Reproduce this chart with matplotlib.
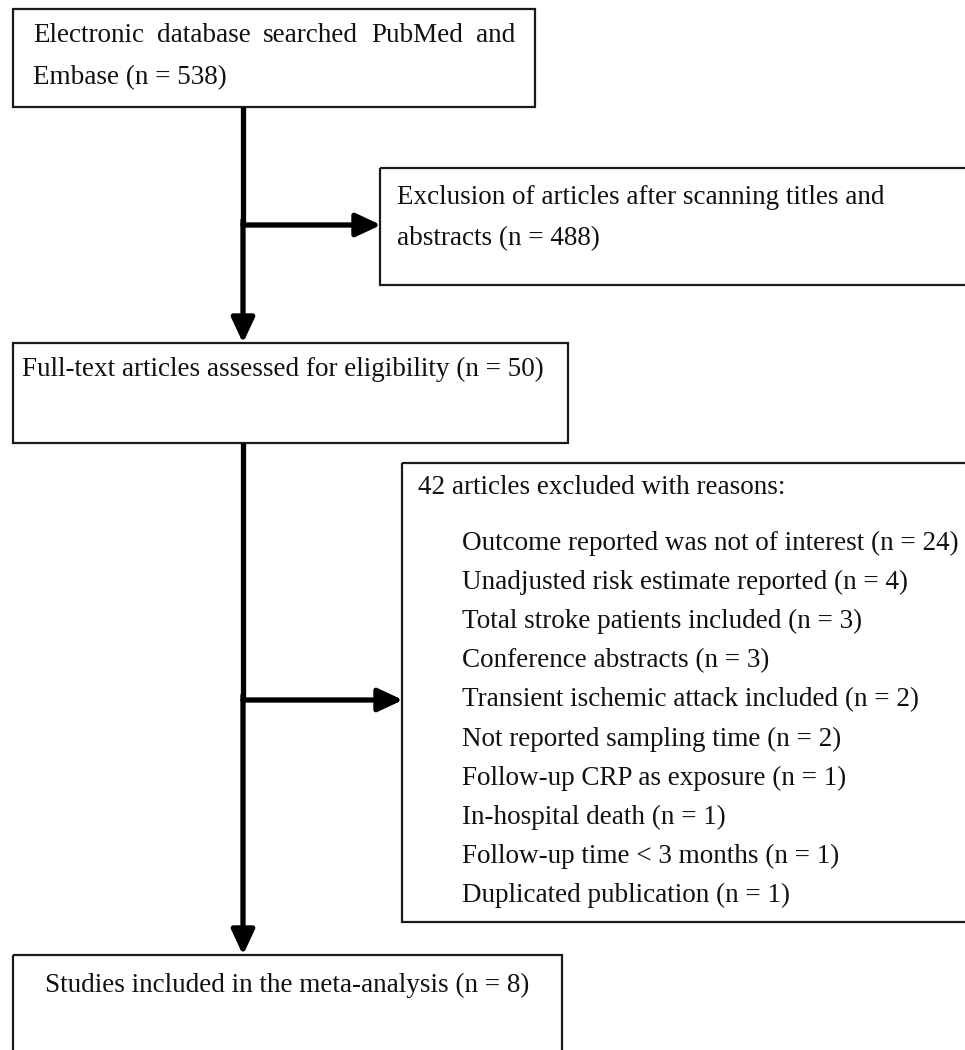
import matplotlib
matplotlib.use("Agg")
import matplotlib.pyplot as plt
from matplotlib.patches import Rectangle

# ---- content ----
box1_words_line1 = ["Electronic", "database", "searched", "PubMed", "and"]
box1_line2 = "Embase (n = 538)"
excl1_lines = ["Exclusion of articles after scanning titles and", "abstracts (n = 488)"]
box2_text = "Full-text articles assessed for eligibility (n = 50)"
excl2_header = "42 articles excluded with reasons:"
excl2_reasons = [
    "Outcome reported was not of interest (n = 24)",
    "Unadjusted risk estimate reported (n = 4)",
    "Total stroke patients included (n = 3)",
    "Conference abstracts (n = 3)",
    "Transient ischemic attack included (n = 2)",
    "Not reported sampling time (n = 2)",
    "Follow-up CRP as exposure (n = 1)",
    "In-hospital death (n = 1)",
    "Follow-up time < 3 months (n = 1)",
    "Duplicated publication (n = 1)",
]
final_text = "Studies included in the meta-analysis (n = 8)"

W, H = 965, 1050
fig = plt.figure(figsize=(W / 100, H / 100), dpi=100)
ax = fig.add_axes([0, 0, 1, 1])
ax.set_xlim(0, W)
ax.set_ylim(H, 0)
ax.axis("off")

FONT = "Liberation Serif"
FS = 19.5
BOX_LW = 1.6
ARR_LW = 3.8


def box(x0, y0, x1, y1):
    ax.add_patch(Rectangle((x0, y0), x1 - x0, y1 - y0, fill=False,
                           edgecolor="#1a1a1a", lw=BOX_LW, clip_on=True))


def txt(x, y, s):
    return ax.text(x, y, s, fontsize=FS, family=FONT, va="center", ha="left",
                   color="#111111")


def arrow(x0, y0, x1, y1):
    ax.annotate("", xy=(x1, y1), xytext=(x0, y0),
                arrowprops=dict(arrowstyle="-|>,head_length=0.75,head_width=0.35",
                                lw=ARR_LW, color="black",
                                shrinkA=0, shrinkB=0, mutation_scale=20))


# boxes
box(13, 9, 535, 107)
box(380, 168, 990, 285)
box(13, 343, 568, 443)
box(402, 463, 990, 922)
box(13, 955, 562, 1100)

# connectors
ax.plot([243, 243], [107, 225], color="black", lw=ARR_LW, solid_capstyle="butt")
arrow(243, 220, 243, 343)
arrow(243, 225, 381, 225)
ax.plot([243, 243], [443, 700], color="black", lw=ARR_LW, solid_capstyle="butt")
arrow(243, 695, 243, 955)
arrow(243, 700, 403, 700)

# box 1: justified first line
fig.canvas.draw()
r = fig.canvas.get_renderer()
inv = ax.transData.inverted()
left, right = 33, 515
objs = [txt(0, 36, w) for w in box1_words_line1]
widths = []
for o in objs:
    bb = o.get_window_extent(renderer=r)
    p0 = inv.transform((bb.x0, bb.y0))
    p1 = inv.transform((bb.x1, bb.y0))
    widths.append(p1[0] - p0[0])
gap = (right - left - sum(widths)) / (len(objs) - 1)
xpos = left
for o, w in zip(objs, widths):
    o.set_x(xpos)
    xpos += w + gap
txt(left, 78, box1_line2)

txt(397, 198, excl1_lines[0])
txt(397, 239, excl1_lines[1])

txt(22, 369, box2_text)

txt(418, 487, excl2_header)
for i, s in enumerate(excl2_reasons):
    txt(462, 543 + i * 39.2, s)

txt(45, 985, final_text)

fig.savefig("out.png", dpi=100, facecolor="white")
